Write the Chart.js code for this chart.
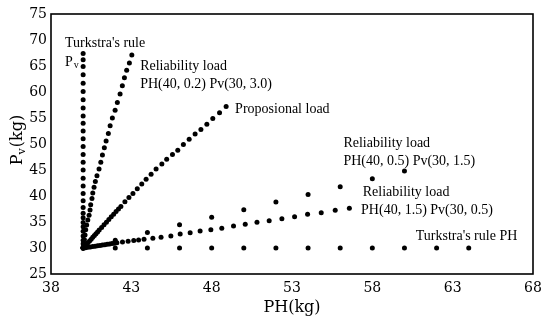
<!DOCTYPE html>
<html>
<head>
<meta charset="utf-8">
<script src="https://cdn.jsdelivr.net/npm/chart.js@4"></script>
<style>
  body { margin: 0; background: #fff; }
  #wrap { width: 550px; height: 321px; }
</style>
</head>
<body>
<div id="wrap"><canvas id="loadChart"></canvas></div>
<script>
// x = PH(kg), y = Pv(kg)
const turkstraPvPH = 40;
const turkstraPvY = [30, 30.2, 30.8, 31.5, 32.3, 33.2, 34.1, 34.9, 35.8, 36.7, 37.8, 39.1, 40.5, 41.9, 43.4,
    45.0, 46.5, 48.0, 49.5, 51.0, 52.5, 54.0, 55.4, 56.9, 58.5, 60.1, 61.7, 63.3, 64.9, 66.2, 67.4];

const rel02X = [40.0, 40.04, 40.08, 40.12, 40.16, 40.22, 40.29, 40.37, 40.43, 40.47, 40.55, 40.6, 40.68, 40.76, 40.86,
    40.99, 41.1, 41.2, 41.32, 41.43, 41.57, 41.68, 41.82, 41.99, 42.13, 42.3, 42.44, 42.57, 42.71, 42.88, 43.03];
const rel02Y = [30.0, 30.8, 31.6, 32.5, 33.5, 34.4, 35.4, 36.3, 37.3, 38.3, 39.5, 40.6, 41.7, 42.8, 43.9,
    45.2, 46.5, 47.9, 49.3, 50.6, 52.0, 53.5, 55.0, 56.5, 58.0, 59.6, 61.2, 62.75, 64.2, 65.6, 67.1];

const propX = [40.0, 40.1, 40.2, 40.3, 40.4, 40.5, 40.6, 40.7, 40.8, 40.9, 41.0, 41.15, 41.3, 41.45, 41.6, 41.75, 41.9, 42.05, 42.2, 42.35,
    42.6, 42.85, 43.1, 43.37, 43.65, 43.92, 44.23, 44.54, 44.9, 45.2, 45.56, 45.89, 46.24, 46.6, 46.97, 47.33, 47.7, 48.07, 48.49, 48.9];
const propY = [30.0, 30.35, 30.7, 31.0, 31.35, 31.7, 32.05, 32.4, 32.75, 33.1, 33.45, 33.95, 34.45, 34.95, 35.5, 36.0, 36.5, 37.0, 37.5, 38.0,
    38.9, 39.7, 40.5, 41.4, 42.3, 43.2, 44.2, 45.2, 46.15, 47.05, 48.0, 48.8, 49.9, 50.9, 51.9, 52.8, 53.8, 54.9, 56.0, 57.2];

const rel05X = [40, 42, 44, 46, 48, 50, 52, 54, 56, 58, 60];
const rel05Y = [30, 31.5, 33.0, 34.45, 35.9, 37.35, 38.85, 40.3, 41.8, 43.3, 44.8];

const rel15X = [40.0, 40.15, 40.3, 40.45, 40.6, 40.75, 40.9, 41.05, 41.2, 41.35, 41.5, 41.65, 41.8, 41.95, 42.1,
    42.45, 42.8, 43.15, 43.45, 43.79, 44.34, 44.85, 45.46, 46.04, 46.66, 47.28, 47.95, 48.63, 49.36, 50.09,
    50.82, 51.58, 52.37, 53.16, 53.97, 54.82, 55.69, 56.57];
const rel15Y = [30.0, 30.06, 30.15, 30.2, 30.29, 30.35, 30.43, 30.48, 30.57, 30.62, 30.71, 30.76, 30.85, 30.91, 31.0,
    31.15, 31.3, 31.42, 31.55, 31.67, 31.86, 32.05, 32.31, 32.69, 32.95, 33.27, 33.52, 33.78, 34.23, 34.55,
    34.94, 35.26, 35.64, 36.03, 36.48, 36.79, 37.25, 37.63];

const turkstraPhX = [40, 42, 44, 46, 48, 50, 52, 54, 56, 58, 60, 62, 64];
const turkstraPhPv = 30;

const yTicks = [25, 30, 35, 40, 45, 50, 55, 60, 65, 70, 75];
const xTicks = [38, 43, 48, 53, 58, 63, 68];

// labels placed in data units (PH, Pv)
const notes = [
    { text: "Turkstra's rule", x: 38.87, y: 69.4 },
    { text: 'P', sub: 'v', x: 38.87, y: 65.8 },
    { text: 'Reliability load', x: 43.55, y: 65.0 },
    { text: 'PH(40, 0.2) Pv(30, 3.0)', x: 43.55, y: 61.5 },
    { text: 'Proposional load', x: 49.46, y: 56.6 },
    { text: 'Reliability load', x: 56.2, y: 50.2 },
    { text: 'PH(40, 0.5) Pv(30, 1.5)', x: 56.2, y: 46.6 },
    { text: 'Reliability load', x: 57.4, y: 40.7 },
    { text: 'PH(40, 1.5) Pv(30, 0.5)', x: 57.3, y: 37.2 },
    { text: "Turkstra's rule PH", x: 60.7, y: 32.2 }
];

const serif = '"DejaVu Serif", "Liberation Serif", serif';
const noteFont = '"Liberation Serif", serif';

function pts(xs, ys) {
    return xs.map((x, i) => ({ x: x, y: ys[i] }));
}

function dots(label, data) {
    return {
        label: label,
        data: data,
        showLine: false,
        pointRadius: 2.5,
        pointBackgroundColor: '#000',
        pointBorderWidth: 0
    };
}

const notesPlugin = {
    id: 'notes',
    afterDraw(chart) {
        const c = chart.ctx;
        const xs = chart.scales.x, ys = chart.scales.y;
        const a = chart.chartArea;
        c.save();
        c.strokeStyle = '#000';
        c.lineWidth = 1.6;
        c.strokeRect(a.left, a.top, a.right - a.left, a.bottom - a.top);

        c.fillStyle = '#000';
        c.textBaseline = 'middle';
        c.textAlign = 'left';
        for (const n of notes) {
            const px = xs.getPixelForValue(n.x);
            const py = ys.getPixelForValue(n.y);
            c.font = '14px ' + noteFont;
            c.fillText(n.text, px, py);
            if (n.sub) {
                const w = c.measureText(n.text).width;
                c.font = '10px ' + noteFont;
                c.fillText(n.sub, px + w + 1, py + 4);
            }
        }

        // y title with subscript
        c.translate(18, 140);
        c.rotate(-Math.PI / 2);
        c.font = '16px ' + serif;
        const wP = c.measureText('P').width;
        const wK = c.measureText('(kg)').width;
        c.font = '11px ' + serif;
        const wV = c.measureText('v').width;
        let x0 = -(wP + wV + wK + 1) / 2;
        c.font = '16px ' + serif;
        c.fillText('P', x0, 0);
        c.font = '11px ' + serif;
        c.fillText('v', x0 + wP, 4);
        c.font = '16px ' + serif;
        c.fillText('(kg)', x0 + wP + wV + 1, 0);
        c.restore();
    }
};

new Chart(document.getElementById('loadChart'), {
    type: 'scatter',
    data: {
        datasets: [
            dots("Turkstra's rule Pv", turkstraPvY.map(y => ({ x: turkstraPvPH, y: y }))),
            dots('Reliability load PH(40, 0.2) Pv(30, 3.0)', pts(rel02X, rel02Y)),
            dots('Proposional load', pts(propX, propY)),
            dots('Reliability load PH(40, 0.5) Pv(30, 1.5)', pts(rel05X, rel05Y)),
            dots('Reliability load PH(40, 1.5) Pv(30, 0.5)', pts(rel15X, rel15Y)),
            dots("Turkstra's rule PH", turkstraPhX.map(x => ({ x: x, y: turkstraPhPv })))
        ]
    },
    options: {
        responsive: true,
        maintainAspectRatio: false,
        animation: false,
        layout: { padding: { top: 14, right: 17, left: 0, bottom: 0 } },
        plugins: {
            legend: { display: false },
            tooltip: { enabled: false }
        },
        scales: {
            x: {
                type: 'linear',
                min: xTicks[0],
                max: xTicks[xTicks.length - 1],
                afterBuildTicks: s => { s.ticks = xTicks.map(v => ({ value: v })); },
                afterFit: s => { s.height = 47; },
                grid: { display: false, drawTicks: false },
                border: { display: false },
                ticks: { color: '#000', font: { family: serif, size: 14 }, padding: 6 },
                title: {
                    display: true,
                    text: 'PH(kg)',
                    color: '#000',
                    font: { family: serif, size: 16 },
                    padding: { top: 4, bottom: 4 }
                }
            },
            y: {
                type: 'linear',
                min: yTicks[0],
                max: yTicks[yTicks.length - 1],
                afterBuildTicks: s => { s.ticks = yTicks.map(v => ({ value: v })); },
                afterFit: s => { s.width = 51; },
                grid: { display: false, drawTicks: false },
                border: { display: false },
                ticks: { color: '#000', font: { family: serif, size: 14 }, padding: 4 }
            }
        }
    },
    plugins: [notesPlugin]
});
</script>
</body>
</html>
